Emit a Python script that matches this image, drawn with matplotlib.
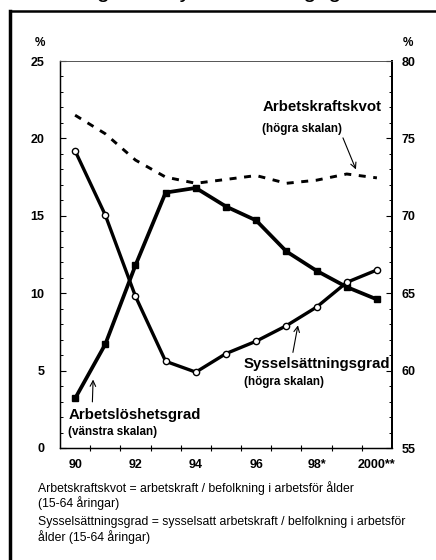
import matplotlib
matplotlib.use("Agg")
import matplotlib.pyplot as plt
from matplotlib.lines import Line2D
from matplotlib.ticker import MultipleLocator, FixedLocator

plt.rcParams["font.family"] = ["Liberation Sans", "DejaVu Sans"]

# Data
years = [1990, 1991, 1992, 1993, 1994, 1995, 1996, 1997, 1998, 1999, 2000]
arbetsloshet = [3.2, 6.7, 11.8, 16.5, 16.8, 15.6, 14.7, 12.7, 11.45, 10.4, 9.6]
sysselsattning = [74.2, 70.05, 64.8, 60.6, 59.9, 61.1, 61.9, 62.9, 64.1, 65.7, 66.5]
arbetskraftskvot = [76.5, 75.3, 73.6, 72.5, 72.1, 72.35, 72.6, 72.1, 72.3, 72.7, 72.45]
xtick_years = [1990, 1992, 1994, 1996, 1998, 2000]
xtick_labels = ["90", "92", "94", "96", "98*", "2000**"]

fig = plt.figure(figsize=(4.36, 5.6), dpi=100)
ax = fig.add_axes([60 / 436, 112 / 560, 332 / 436, 387 / 560])
ax2 = ax.twinx()

# Arbetslöshetsgrad, vänstra skalan
ax.plot(years, arbetsloshet, color="black", linewidth=2.7, marker="s",
        markersize=5, markerfacecolor="black", zorder=3)

# Sysselsättningsgrad och arbetskraftskvot, högra skalan
ax2.plot(years, sysselsattning, color="black", linewidth=2.4, marker="o",
         markersize=4.5, markerfacecolor="white", markeredgewidth=1.0, zorder=3)
ax2.plot(years, arbetskraftskvot, color="black", linewidth=2.1,
         linestyle=(0, (2.4, 2.6)), zorder=3)

ax.set_xlim(1989.5, 2000.5)
ax.set_ylim(0, 25)
ax2.set_ylim(55, 80)

ax.yaxis.set_major_locator(MultipleLocator(5))
ax.yaxis.set_minor_locator(MultipleLocator(1))
ax2.yaxis.set_major_locator(MultipleLocator(5))
ax2.yaxis.set_minor_locator(MultipleLocator(1))
ax.set_xticks(xtick_years)
ax.set_xticklabels(xtick_labels)
ax.xaxis.set_minor_locator(FixedLocator([y + 0.5 for y in years[:-1]]))

tick_font = dict(fontsize=8.5, fontweight="bold")
for lab in ax.get_yticklabels() + ax2.get_yticklabels() + ax.get_xticklabels():
    lab.set_fontweight("bold")
    lab.set_fontsize(9)

ax.tick_params(axis="y", which="major", direction="in", length=4, width=0.8, pad=11)
ax.tick_params(axis="y", which="minor", direction="in", length=2.5, width=0.7)
ax2.tick_params(axis="y", which="major", direction="in", length=4, width=0.8, pad=7)
ax2.tick_params(axis="y", which="minor", direction="in", length=2.5, width=0.7)
ax.tick_params(axis="x", which="major", length=0, pad=8)
ax.tick_params(axis="x", which="minor", direction="inout", length=5, width=0.8)

for a in (ax, ax2):
    a.spines["top"].set_linewidth(0.6)
    a.spines["top"].set_color("#555555")
    a.spines["left"].set_linewidth(0.9)
    a.spines["bottom"].set_linewidth(0.9)
    a.spines["right"].set_linewidth(1.4)

# Procenttecken ovanför axlarna
fig.text(40 / 436, 1 - 43 / 560, "%", ha="center", va="center", **tick_font)
fig.text(408 / 436, 1 - 43 / 560, "%", ha="center", va="center", **tick_font)

# Etiketter med pilar
lab_big = dict(fontsize=10.8, fontweight="bold", color="black")
lab_small = dict(fontsize=8.4, fontweight="bold", color="black")

ax2.text(1996.2, 77.03, "Arbetskraftskvot", ha="left", va="center", **lab_big)
ax2.text(1996.2, 75.6, "(högra skalan)", ha="left", va="center", **lab_small)
ax2.annotate("", xy=(1999.34, 72.83), xytext=(1998.84, 75.2),
             arrowprops=dict(arrowstyle="->", color="black", lw=0.8))

ax2.text(1995.6, 60.43, "Sysselsättningsgrad", ha="left", va="center", **lab_big)
ax2.text(1995.6, 59.26, "(högra skalan)", ha="left", va="center", **lab_small)
ax2.annotate("", xy=(1997.4, 63.1), xytext=(1997.2, 61.0),
             arrowprops=dict(arrowstyle="->", color="black", lw=0.8))

ax.text(1989.77, 2.13, "Arbetslöshetsgrad", ha="left", va="center", **lab_big)
ax.text(1989.77, 1.03, "(vänstra skalan)", ha="left", va="center", **lab_small)
ax.annotate("", xy=(1990.6, 4.6), xytext=(1990.57, 2.8),
            arrowprops=dict(arrowstyle="->", color="black", lw=0.8))

# Förklaringar under diagrammet
foot = ["Arbetskraftskvot = arbetskraft / befolkning i arbetsför ålder",
        "(15-64 åringar)",
        "Sysselsättningsgrad = sysselsatt arbetskraft / belfolkning i arbetsför",
        "ålder (15-64 åringar)"]
foot_y = [488, 503, 522, 537]
for txt, yy in zip(foot, foot_y):
    fig.text(38 / 436, 1 - yy / 560, txt, ha="left", va="center", fontsize=8.8)

# Ram runt figuren och avklippt rubrik
fig.add_artist(Line2D([10 / 436, 10 / 436], [0, 1 - 11 / 560],
                      transform=fig.transFigure, color="black", lw=2.5))
fig.add_artist(Line2D([10 / 436, 1], [1 - 11 / 560, 1 - 11 / 560],
                      transform=fig.transFigure, color="black", lw=1.8))
fig.text(0.52, 1 + 3 / 560, "Figur 2. Sysselsättningsgrad", ha="center",
         va="baseline", fontsize=17)

fig.savefig("out.png", dpi=100)
